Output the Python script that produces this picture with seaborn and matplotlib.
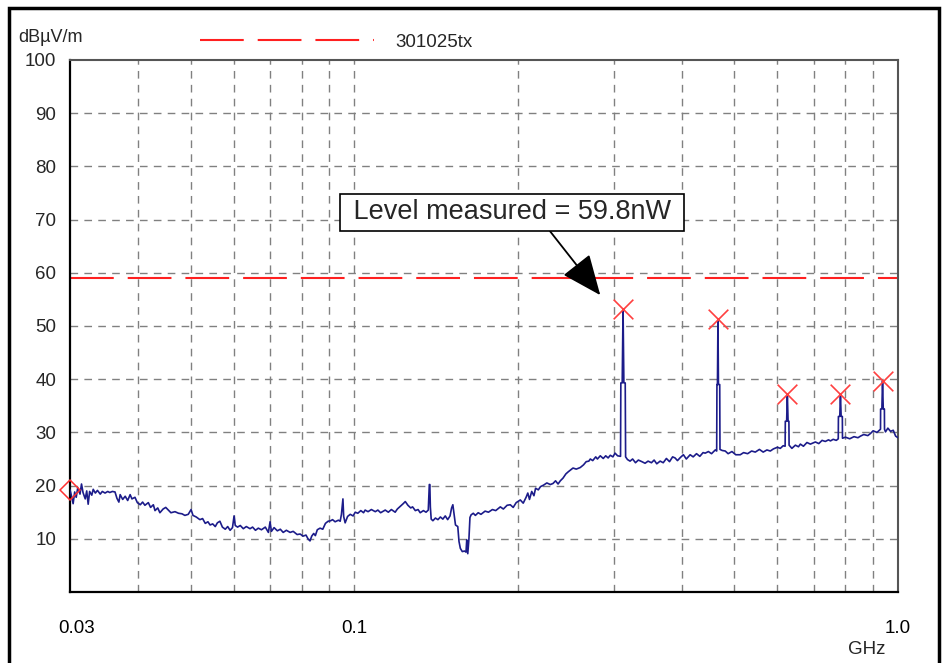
import matplotlib
matplotlib.use("Agg")
import matplotlib.pyplot as plt
import seaborn as sns
import pandas as pd
from matplotlib.patches import Rectangle

# ---------------------------------------------------------------------------
# Data
# ---------------------------------------------------------------------------
freq_ghz = [
    0.0300, 0.0302, 0.0304, 0.0306, 0.0308, 0.0310, 0.0313, 0.0315, 0.0317, 0.0320,
    0.0322, 0.0324, 0.0326, 0.0329, 0.0331, 0.0334, 0.0337, 0.0341, 0.0344, 0.0348,
    0.0352, 0.0355, 0.0359, 0.0363, 0.0366, 0.0369, 0.0371, 0.0375, 0.0379, 0.0383,
    0.0387, 0.0390, 0.0395, 0.0399, 0.0404, 0.0408, 0.0412, 0.0418, 0.0422, 0.0427,
    0.0430, 0.0435, 0.0439, 0.0445, 0.0450, 0.0455, 0.0460, 0.0468, 0.0475, 0.0482,
    0.0488, 0.0495, 0.0501, 0.0505, 0.0512, 0.0520, 0.0526, 0.0532, 0.0538, 0.0543,
    0.0549, 0.0555, 0.0560, 0.0566, 0.0572, 0.0579, 0.0585, 0.0591, 0.0597, 0.0601,
    0.0604, 0.0610, 0.0617, 0.0625, 0.0633, 0.0643, 0.0650, 0.0658, 0.0666, 0.0675,
    0.0686, 0.0695, 0.0700, 0.0704, 0.0712, 0.0722, 0.0731, 0.0740, 0.0750, 0.0762,
    0.0772, 0.0785, 0.0795, 0.0805, 0.0815, 0.0822, 0.0829, 0.0835, 0.0842, 0.0848,
    0.0855, 0.0865, 0.0875, 0.0885, 0.0895, 0.0905, 0.0912, 0.0922, 0.0935, 0.0942,
    0.0947, 0.0953, 0.0956, 0.0962, 0.0972, 0.0983, 0.0995, 0.1004, 0.1015, 0.1028,
    0.1040, 0.1047, 0.1060, 0.1075, 0.1093, 0.1105, 0.1118, 0.1140, 0.1155, 0.1170,
    0.1189, 0.1200, 0.1215, 0.1230, 0.1241, 0.1255, 0.1270, 0.1280, 0.1295, 0.1310,
    0.1322, 0.1340, 0.1355, 0.1368, 0.1374, 0.1377, 0.1380, 0.1385, 0.1395, 0.1410,
    0.1425, 0.1440, 0.1455, 0.1470, 0.1485, 0.1500, 0.1510, 0.1518, 0.1525, 0.1535,
    0.1550, 0.1558, 0.1567, 0.1580, 0.1595, 0.1605, 0.1610, 0.1617, 0.1625, 0.1632,
    0.1640, 0.1655, 0.1670, 0.1690, 0.1710, 0.1740, 0.1765, 0.1795, 0.1820, 0.1856,
    0.1880, 0.1910, 0.1936, 0.1960, 0.1985, 0.2020, 0.2045, 0.2070, 0.2085, 0.2100,
    0.2120, 0.2140, 0.2155, 0.2180, 0.2200, 0.2230, 0.2260, 0.2294, 0.2320, 0.2345,
    0.2370, 0.2393, 0.2420, 0.2450, 0.2475, 0.2496, 0.2525, 0.2560, 0.2604, 0.2640,
    0.2670, 0.2700, 0.2717, 0.2745, 0.2780, 0.2800, 0.2834, 0.2870, 0.2900, 0.2930,
    0.2957, 0.2990, 0.3017, 0.3050, 0.3088, 0.3092, 0.3110, 0.3121, 0.3132, 0.3150,
    0.3155, 0.3180, 0.3215, 0.3250, 0.3290, 0.3330, 0.3380, 0.3426, 0.3470, 0.3520,
    0.3560, 0.3600, 0.3652, 0.3700, 0.3750, 0.3800, 0.3850, 0.3890, 0.3930, 0.3980,
    0.4030, 0.4080, 0.4147, 0.4200, 0.4260, 0.4320, 0.4380, 0.4420, 0.4480, 0.4540,
    0.4612, 0.4640, 0.4645, 0.4655, 0.4665, 0.4675, 0.4700, 0.4705, 0.4750, 0.4811,
    0.4870, 0.4950, 0.5030, 0.5127, 0.5200, 0.5290, 0.5380, 0.5464, 0.5560, 0.5650,
    0.5740, 0.5823, 0.5900, 0.6000, 0.6075, 0.6150, 0.6200, 0.6205, 0.6240, 0.6259,
    0.6278, 0.6300, 0.6305, 0.6380, 0.6475, 0.6560, 0.6614, 0.6700, 0.6800, 0.6900,
    0.7048, 0.7150, 0.7250, 0.7350, 0.7450, 0.7512, 0.7600, 0.7700, 0.7765, 0.7770,
    0.7815, 0.7837, 0.7860, 0.7900, 0.7905, 0.8005, 0.8150, 0.8300, 0.8440, 0.8531,
    0.8650, 0.8800, 0.8901, 0.9000, 0.9150, 0.9286, 0.9290, 0.9340, 0.9366, 0.9395,
    0.9440, 0.9445, 0.9485, 0.9580, 0.9688, 0.9800, 0.9900, 1.0000,
]
level_dbuv = [
    19.2, 18.0, 16.6, 18.8, 17.8, 19.6, 18.4, 20.3, 18.7, 17.5,
    19.0, 16.5, 18.9, 18.2, 19.3, 18.6, 19.1, 18.4, 18.9, 18.6,
    18.9, 18.7, 18.9, 18.8, 17.6, 16.9, 18.3, 17.4, 18.0, 17.2,
    18.3, 17.5, 17.8, 16.8, 16.4, 16.9, 16.3, 16.8, 15.9, 16.4,
    15.3, 15.8, 14.9, 15.6, 15.9, 15.4, 14.9, 15.1, 14.8, 14.7,
    14.4, 14.6, 15.5, 14.4, 14.1, 13.6, 13.8, 12.9, 13.2, 12.6,
    12.8, 12.3, 13.0, 13.3, 12.2, 11.8, 12.3, 11.6, 12.1, 14.3,
    12.5, 12.2, 12.5, 11.9, 12.3, 11.9, 12.2, 11.6, 12.0, 11.7,
    12.2, 11.2, 13.2, 11.4, 12.1, 11.5, 11.8, 11.2, 11.6, 11.2,
    11.4, 10.8, 10.9, 10.5, 10.7, 10.0, 9.6, 10.5, 11.0, 10.6,
    11.7, 12.0, 11.8, 12.9, 13.3, 13.4, 13.6, 13.2, 13.5, 13.3,
    14.6, 17.5, 14.2, 13.0, 14.2, 14.6, 14.3, 15.0, 14.8, 15.3,
    14.9, 15.4, 15.1, 15.5, 15.1, 15.4, 14.9, 15.4, 15.0, 15.5,
    15.0, 15.6, 16.1, 16.6, 17.0, 16.3, 15.8, 16.0, 15.3, 15.5,
    14.9, 15.3, 15.0, 15.4, 20.2, 20.2, 16.0, 13.7, 13.4, 13.9,
    13.6, 14.1, 13.7, 14.3, 13.6, 14.3, 15.8, 16.4, 14.8, 12.6,
    12.3, 9.5, 8.2, 7.6, 7.7, 7.5, 9.8, 7.2, 10.0, 14.0,
    14.5, 14.8, 14.4, 14.9, 14.6, 15.2, 15.0, 15.5, 15.3, 16.0,
    15.6, 16.3, 16.4, 15.9, 16.8, 17.3, 16.7, 17.8, 18.6, 17.4,
    18.9, 18.1, 19.5, 19.2, 19.8, 20.1, 20.5, 20.2, 20.4, 20.9,
    20.3, 20.9, 21.4, 22.2, 22.6, 22.9, 23.3, 23.1, 23.4, 23.9,
    24.5, 24.6, 25.0, 24.7, 25.4, 25.0, 25.6, 25.1, 25.6, 25.2,
    25.7, 25.4, 26.1, 25.6, 25.5, 39.3, 39.3, 53.2, 39.3, 39.3,
    25.4, 24.9, 24.6, 25.0, 24.3, 24.8, 24.5, 24.2, 24.6, 24.3,
    24.8, 24.1, 24.6, 24.3, 25.1, 24.5, 25.4, 25.2, 24.7, 25.3,
    25.8, 25.0, 25.8, 25.4, 26.0, 25.5, 26.2, 26.1, 26.4, 26.0,
    26.7, 26.5, 39.0, 39.0, 51.3, 39.0, 39.0, 26.8, 26.6, 26.5,
    26.0, 26.4, 25.8, 25.8, 26.2, 26.0, 26.5, 26.3, 26.8, 26.3,
    26.7, 26.5, 26.9, 27.2, 27.0, 27.5, 27.4, 32.1, 32.1, 37.2,
    32.1, 32.1, 27.6, 27.0, 27.6, 27.3, 27.8, 27.4, 28.1, 27.8,
    28.2, 27.9, 28.5, 28.3, 28.6, 28.4, 28.7, 28.5, 28.8, 33.0,
    33.0, 37.2, 33.0, 33.0, 28.9, 29.1, 28.8, 29.2, 29.0, 29.3,
    29.6, 29.4, 29.8, 30.3, 30.0, 30.6, 34.4, 34.4, 39.7, 34.4,
    34.4, 30.6, 30.1, 30.8, 30.2, 30.4, 29.3, 29.0,
]

# peaks flagged by the receiver software
peak_freq = [0.3121, 0.4665, 0.6259, 0.7837, 0.9366]
peak_level = [53.2, 51.3, 37.2, 37.2, 39.7]

start_freq = [0.0300]
start_level = [19.2]

limit_level = 59.0
limit_name = "301025tx"

x_ticks = [0.03, 0.1, 1.0]
x_tick_labels = ["0.03", "0.1", "1.0"]
x_minor = [0.04, 0.05, 0.06, 0.07, 0.08, 0.09, 0.2, 0.3, 0.4, 0.5, 0.6, 0.7, 0.8, 0.9]
y_ticks = [10, 20, 30, 40, 50, 60, 70, 80, 90, 100]

arrow_tip = (0.2834, 55.8)
note_pos = (0.1950, 71.4)

trace = pd.DataFrame({"freq": freq_ghz, "level": level_dbuv})
peaks = pd.DataFrame({"freq": peak_freq, "level": peak_level})

# ---------------------------------------------------------------------------
# Style
# ---------------------------------------------------------------------------
sns.set_style("white")
plt.rcParams["font.family"] = ["Liberation Sans", "DejaVu Sans"]

W, H = 944, 663
fig = plt.figure(figsize=(W / 100, H / 100), dpi=100)
ax = fig.add_axes([70 / W, 1 - 592 / H, 828 / W, 532 / H])
ax.set_xscale("log")

grid_kw = dict(color="#808080", lw=1.0, linestyle=(0, (5.5, 4.5)))

# measured trace
sns.lineplot(data=trace, x="freq", y="level", ax=ax, color="#1c1c8a", lw=1.2,
             estimator=None, sort=False, zorder=3)

# limit line
ax.axhline(limit_level, color="#ff2020", lw=1.5, linestyle=(0, (21, 6.7)),
           label=limit_name, zorder=2)

# peak markers
sns.scatterplot(data=peaks, x="freq", y="level", ax=ax, marker="x", s=200,
                color="#ff4040", linewidth=1.2, zorder=4, legend=False)
ax.plot(start_freq, start_level, marker="D", ms=10, mfc="none", mec="#ff3030",
        mew=1.1, ls="none", clip_on=False, zorder=5)

ax.set_xlim(0.03, 1.0)
ax.set_ylim(0, 100)
ax.set_xticks(x_ticks)
ax.set_xticklabels(x_tick_labels)
ax.set_xticks(x_minor, minor=True)
ax.xaxis.set_minor_formatter(matplotlib.ticker.NullFormatter())
ax.set_yticks(y_ticks)
ax.set_yticklabels([str(v) for v in y_ticks])
ax.tick_params(axis="x", which="major", direction="out", length=7, width=1.5,
               pad=13, labelsize=13.5, colors="black")
ax.tick_params(axis="x", which="minor", length=0)
ax.tick_params(axis="y", length=0, pad=10, labelsize=13.5)
ax.set_xlabel("")
ax.set_ylabel("")
# nudge "0.03" a little right like the original
ax.get_xticklabels()[0].set_ha("left")
ax.get_xticklabels()[0].set_x(0.03)
for lab in ax.get_xticklabels()[:1]:
    lab.set_transform(lab.get_transform() + matplotlib.transforms.ScaledTranslation(-12 / 100, 0, fig.dpi_scale_trans))

for v in x_minor + [0.1]:
    ax.axvline(v, **grid_kw, zorder=1)
for v in y_ticks[:-1]:
    ax.axhline(v, **grid_kw, zorder=1)

for side in ["left", "bottom"]:
    ax.spines[side].set_color("black")
    ax.spines[side].set_linewidth(1.6)
for side in ["top", "right"]:
    ax.spines[side].set_color("#555555")
    ax.spines[side].set_linewidth(1.5)

# annotation box with arrow
ax.annotate(" Level measured = 59.8nW ", xy=arrow_tip, xytext=note_pos,
            ha="center", va="center", fontsize=19.5,
            bbox=dict(boxstyle="square,pad=0.2", fc="white", ec="black", lw=1.2),
            arrowprops=dict(arrowstyle="-|>,head_length=1.3,head_width=0.55",
                            color="black", lw=1.3, relpos=(0.6, 0.0),
                            shrinkA=0, shrinkB=0),
            zorder=6)

# legend up top
ax.legend(loc="center left", bbox_to_anchor=(200 / W, 1 - 42 / H),
          bbox_transform=fig.transFigure, frameon=False, fontsize=13.5,
          handlelength=9.3, handletextpad=1.1, borderpad=0, borderaxespad=0)

fig.text(18 / W, 1 - 38 / H, "dBµV/m", fontsize=13, ha="left", va="center")
fig.text(885 / W, 1 - 650 / H, "GHz", fontsize=13.5, ha="right", va="center")

# outer frame of the report image
fig.add_artist(Rectangle((9 / W, -0.02), 930 / W, 1.02 - 8 / H,
                         transform=fig.transFigure, fill=False, ec="black", lw=2.5))

fig.savefig("out.png", dpi=100)
plt.close(fig)
